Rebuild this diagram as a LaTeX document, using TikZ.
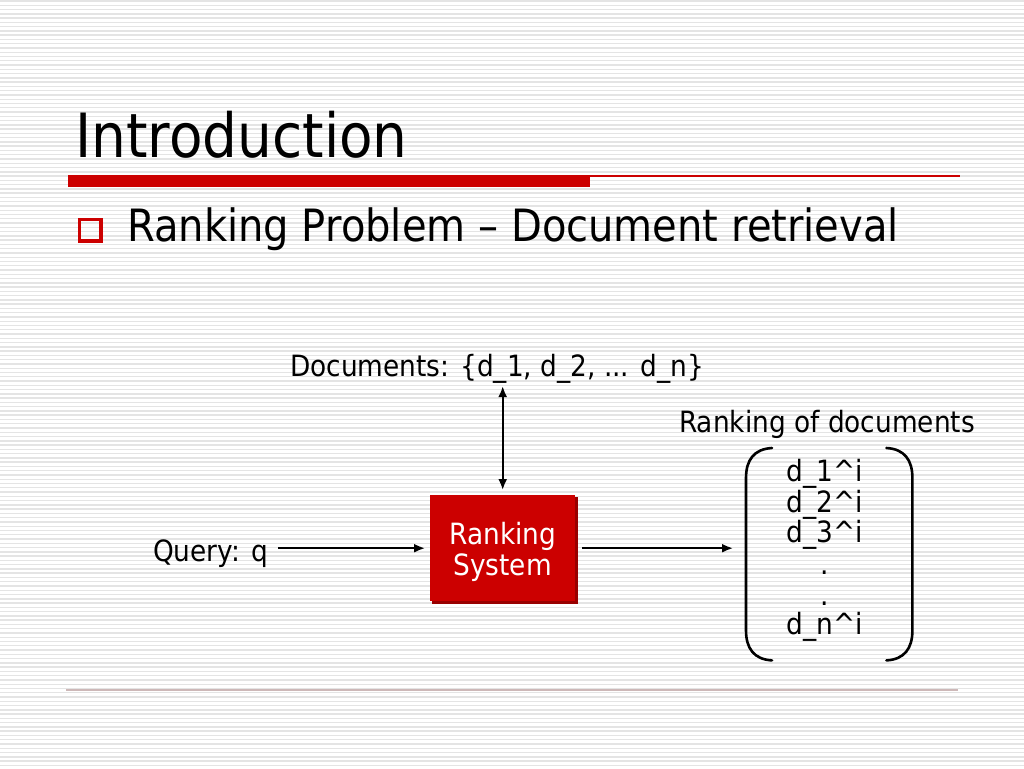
\documentclass[tikz,border=0pt]{standalone}
\usepackage{fontspec}
\setmainfont[FakeStretch=0.9]{DejaVu Sans}
\usetikzlibrary{arrows.meta}
\definecolor{slidered}{HTML}{CC0000}
\definecolor{darkred}{HTML}{990000}
\definecolor{stripe}{HTML}{E4E4E4}
\definecolor{footline}{HTML}{CDB8B8}
\begin{document}
\begin{tikzpicture}[x=1pt,y=-1pt,
  txt/.style={inner sep=0pt,font=\fontsize{29.3}{34}\selectfont},
  arr/.style={line width=2pt,-{Latex[length=11pt,width=9pt]}},
  darr/.style={line width=2pt,{Latex[length=11pt,width=9pt]}-{Latex[length=11pt,width=9pt]}},
  paren/.style={line width=2.6pt,line cap=round}]
\useasboundingbox (0,0) rectangle (1024,768);
\fill[white] (0,0) rectangle (1024,768);
\foreach \y in {1,5.27,...,768} \draw[stripe,line width=1.4pt] (0,\y) -- (1024,\y);
% title
\node[inner sep=0pt,anchor=base west,font=\fontsize{61}{70}\selectfont] (title) at (75,157) {Introduction};
\fill[slidered] (68,175) rectangle (590,187);
\draw[slidered,line width=1.6pt] (590,175.8) -- (960,175.8);
% bullet
\draw[slidered,line width=3.8pt] (79.5,219.5) rectangle (101,241);
\node[inner sep=0pt,anchor=base west,font=\fontsize{44.5}{50}\selectfont] (bullet) at (127,241) {Ranking Problem – Document retrieval};
% diagram
\node[txt,anchor=base] (docs) at (497,376) {Documents: \{d\_1, d\_2, ... d\_n\}};
\node[txt,anchor=base] (rankof) at (827,432) {Ranking of documents};
\node[txt,anchor=base west] (query) at (153,561) {Query: q};
\fill[darkred] (432,497) rectangle (578,604);
\node[fill=slidered,minimum width=145pt,minimum height=106pt,inner sep=0pt,anchor=north west] (box) at (430,495) {};
\node[text=white,align=center,inner sep=0pt,font=\fontsize{29.3}{31}\selectfont] (boxtext) at ([yshift=-4pt]box.center) {Ranking\\ System};
\node[minimum width=166pt,minimum height=212pt,inner sep=0pt,anchor=north west] (list) at (746,448) {};
\node[txt,anchor=base] (l1) at (825,481) {d\_1\^{}i};
\node[txt,anchor=base] (l2) at (825,512) {d\_2\^{}i};
\node[txt,anchor=base] (l3) at (825,542) {d\_3\^{}i};
\node[txt,anchor=base] (l4) at (825,574) {.};
\node[txt,anchor=base] (l5) at (825,605) {.};
\node[txt,anchor=base] (l6) at (825,634) {d\_n\^{}i};
% parentheses
\draw[paren] ([xshift=26pt]list.north west) .. controls ([xshift=8pt,yshift=-1pt]list.north west) and ([yshift=-12pt]list.north west) .. ([yshift=-30pt]list.north west)
  -- ([yshift=30pt]list.south west) .. controls ([yshift=12pt]list.south west) and ([xshift=8pt,yshift=1pt]list.south west) .. ([xshift=26pt]list.south west);
\draw[paren] ([xshift=-26pt]list.north east) .. controls ([xshift=-8pt,yshift=-1pt]list.north east) and ([yshift=-12pt]list.north east) .. ([yshift=-30pt]list.north east)
  -- ([yshift=30pt]list.south east) .. controls ([yshift=12pt]list.south east) and ([xshift=-8pt,yshift=1pt]list.south east) .. ([xshift=-26pt]list.south east);
% connectors
\draw[arr,shorten <=10pt,shorten >=5pt] (query.east |- box.west) -- (box.west);
\draw[arr,shorten <=7pt,shorten >=13pt] (box.east) -- (list.west |- box.east);
\draw[darr,shorten <=5pt,shorten >=3pt] (box.north) -- (box.north |- docs.south);
% footer
\draw[footline,line width=1.5pt] (66,690) -- (958,690);
\end{tikzpicture}
\end{document}
